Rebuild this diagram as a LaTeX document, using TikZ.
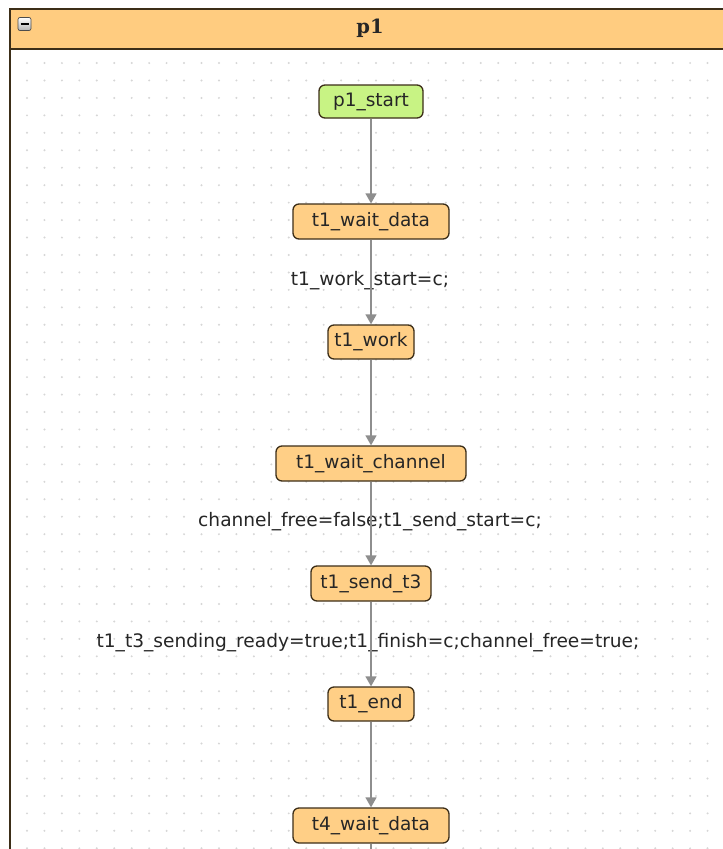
\documentclass[tikz,border=0pt]{standalone}
\usepackage{fontspec}
\setmainfont{DejaVu Sans}
\newfontfamily\titlefont{DejaVu Serif}
\usetikzlibrary{arrows.meta}
\definecolor{stfill}{HTML}{FFCF86}
\definecolor{startfill}{HTML}{C8F384}
\definecolor{hdrfill}{HTML}{FFCC80}
\definecolor{stborder}{HTML}{3C2E18}
\definecolor{conn}{HTML}{8E8E8E}
\definecolor{griddot}{HTML}{D6D6D6}
\tikzset{
  state/.style={draw=stborder, line width=1.3pt, fill=stfill, rounded corners=6pt,
    inner sep=0pt, text=black!85, font=\fontsize{18.5}{21}\selectfont},
  startstate/.style={state, fill=startfill},
  trans/.style={draw=conn, line width=1.4pt, -{Triangle[width=11pt,length=10pt]}},
  lbl/.style={inner sep=0pt, text=black!85, font=\fontsize{18.6}{21}\selectfont}
}
\begin{document}
\begin{tikzpicture}[x=1pt,y=-1pt]
\useasboundingbox (0,0) rectangle (723,849);
\begin{scope}
\clip (0,0) rectangle (723,849);
\fill[white] (0,0) rectangle (723,849);
% grid dots
\foreach \gx in {0,...,40} {
  \foreach \gy in {0,...,45} {
    \fill[griddot] (27+\gx*17.45, 63+\gy*17.45) circle (1.1pt);
  }
}
% frame
\draw[stborder, line width=1.6pt] (10,870) -- (10,9) -- (740,9);
\draw[stborder, line width=1.6pt, fill=hdrfill] (10,9) rectangle (740,49);
\node[font=\titlefont\bfseries\fontsize{19.5}{22}\selectfont, text=black!85] (title) at (370,28) {p1};
% collapse icon
\shade[top color=white, bottom color=gray!60, draw=gray!60!black, line width=0.7pt, rounded corners=2pt] (18,17.5) rectangle (31,30.5);
\draw[black, line width=1.8pt] (20.5,24) -- (28.5,24);
\end{scope}
% states
\node[startstate, minimum width=104pt, minimum height=33pt] (s0) at (371,101.5) {p1\_start};
\node[state, minimum width=156pt, minimum height=35pt] (s1) at (371,221.5) {t1\_wait\_data};
\node[state, minimum width=86pt, minimum height=34pt] (s2) at (371,342) {t1\_work};
\node[state, minimum width=190pt, minimum height=35pt] (s3) at (371,463.5) {t1\_wait\_channel};
\node[state, minimum width=120pt, minimum height=35pt] (s4) at (371,583.5) {t1\_send\_t3};
\node[state, minimum width=86pt, minimum height=34pt] (s5) at (371,704) {t1\_end};
\node[state, minimum width=156pt, minimum height=35pt] (s6) at (371,825.5) {t4\_wait\_data};
\coordinate (out) at (371,849);
% labels
\node[lbl] (l1) at (370,281) {t1\_work\_start=c;};
\node[lbl] (l2) at (370,522) {channel\_free=false;t1\_send\_start=c;};
\node[lbl] (l3) at (368,643) {t1\_t3\_sending\_ready=true;t1\_finish=c;channel\_free=true;};
% transitions
\draw[trans] (s0) -- (s1);
\draw[trans] (s1) -- (s2);
\draw[trans] (s2) -- (s3);
\draw[trans] (s3) -- (s4);
\draw[trans] (s4) -- (s5);
\draw[trans] (s5) -- (s6);
\draw[conn, line width=1.4pt] (s6) -- (out);
\end{tikzpicture}
\end{document}
